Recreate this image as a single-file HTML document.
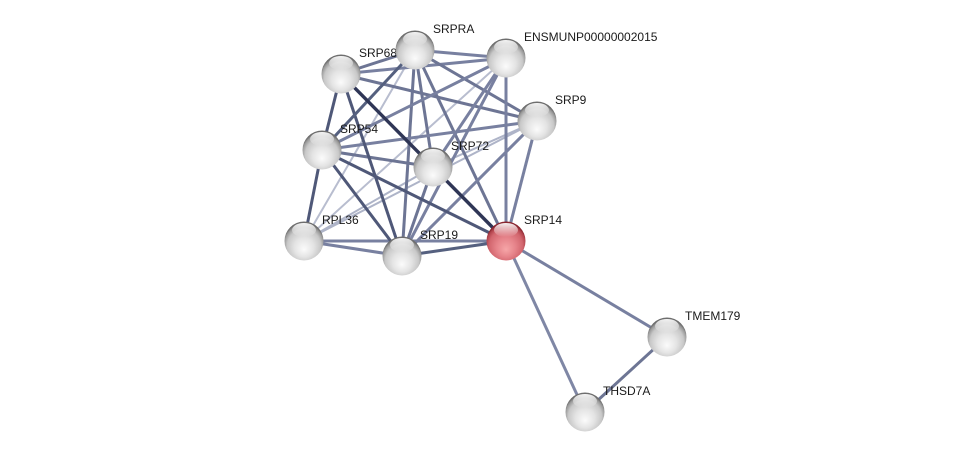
<!DOCTYPE html>
<html>
<head>
<meta charset="utf-8">
<style>
  html,body{margin:0;padding:0;background:#fff;}
  svg{display:block;}
  text{font-family:"Liberation Sans",Arial,sans-serif;font-size:12px;fill:#1a1a1a;}
</style>
</head>
<body>
<svg width="975" height="457" viewBox="0 0 975 457" xmlns="http://www.w3.org/2000/svg">
  <defs>
    <radialGradient id="gg" cx="50%" cy="60%" r="55%" fx="50%" fy="72%">
      <stop offset="0%" stop-color="#fbfbfb"/>
      <stop offset="45%" stop-color="#e4e4e4"/>
      <stop offset="78%" stop-color="#c8c8c8"/>
      <stop offset="93%" stop-color="#9a9a9a"/>
      <stop offset="100%" stop-color="#6e6e6e"/>
    </radialGradient>
    <radialGradient id="rg" cx="50%" cy="60%" r="55%" fx="50%" fy="72%">
      <stop offset="0%" stop-color="#f6a6a8"/>
      <stop offset="45%" stop-color="#e6838a"/>
      <stop offset="78%" stop-color="#d2666e"/>
      <stop offset="93%" stop-color="#b2444d"/>
      <stop offset="100%" stop-color="#8a2630"/>
    </radialGradient>
    <linearGradient id="hl" x1="0" y1="0" x2="0" y2="1">
      <stop offset="0%" stop-color="#ffffff" stop-opacity="0.95"/>
      <stop offset="100%" stop-color="#ffffff" stop-opacity="0"/>
    </linearGradient>
  </defs>

  <g stroke-linecap="butt" stroke-width="3" fill="none">
    <!-- light edges -->
    <g stroke-width="2">
      <line x1="415" y1="50" x2="304" y2="241" stroke="#b8bdcf"/>
      <line x1="506" y1="58" x2="304" y2="241" stroke="#b8bdcf"/>
      <line x1="537" y1="121" x2="433" y2="167" stroke="#aeb4c8"/>
      <line x1="537" y1="121" x2="304" y2="241" stroke="#aeb4c8"/>
      <line x1="433" y1="167" x2="304" y2="241" stroke="#aeb4c8"/>
    </g>

    <!-- normal edges -->
    <line x1="341" y1="74" x2="415" y2="50" stroke="#6d7594"/>
    <line x1="341" y1="74" x2="506" y2="58" stroke="#7880a0"/>
    <line x1="341" y1="74" x2="537" y2="121" stroke="#6d7594"/>
    <line x1="415" y1="50" x2="506" y2="58" stroke="#7880a0"/>
    <line x1="415" y1="50" x2="537" y2="121" stroke="#6d7594"/>
    <line x1="415" y1="50" x2="433" y2="167" stroke="#6d7594"/>
    <line x1="415" y1="50" x2="402" y2="256" stroke="#6d7594"/>
    <line x1="415" y1="50" x2="506" y2="241" stroke="#6d7594"/>
    <line x1="506" y1="58" x2="322" y2="150" stroke="#7880a0"/>
    <line x1="506" y1="58" x2="433" y2="167" stroke="#7880a0"/>
    <line x1="506" y1="58" x2="402" y2="256" stroke="#7880a0"/>
    <line x1="506" y1="58" x2="506" y2="241" stroke="#7880a0"/>
    <line x1="537" y1="121" x2="322" y2="150" stroke="#7880a0"/>
    <line x1="537" y1="121" x2="402" y2="256" stroke="#7880a0"/>
    <line x1="537" y1="121" x2="506" y2="241" stroke="#7880a0"/>
    <line x1="322" y1="150" x2="433" y2="167" stroke="#6d7594"/>
    <line x1="433" y1="167" x2="402" y2="256" stroke="#6d7594"/>
    <line x1="402" y1="256" x2="304" y2="241" stroke="#7880a0"/>
    <line x1="304" y1="241" x2="506" y2="241" stroke="#7880a0"/>
    <line x1="506" y1="241" x2="667" y2="337" stroke="#7880a0"/>
    <line x1="506" y1="241" x2="585" y2="412" stroke="#7f87a5"/>
    <line x1="667" y1="337" x2="585" y2="412" stroke="#6d7594"/>

    <!-- medium-dark edges -->
    <line x1="341" y1="74" x2="322" y2="150" stroke="#4f5878"/>
    <line x1="341" y1="74" x2="402" y2="256" stroke="#4f5878"/>
    <line x1="415" y1="50" x2="322" y2="150" stroke="#55607f"/>
    <line x1="322" y1="150" x2="506" y2="241" stroke="#4f5878"/>
    <line x1="322" y1="150" x2="402" y2="256" stroke="#4f5878"/>
    <line x1="322" y1="150" x2="304" y2="241" stroke="#4f5878"/>
    <line x1="402" y1="256" x2="506" y2="241" stroke="#55607f"/>

    <!-- dark edge -->
    <line x1="341" y1="74" x2="506" y2="241" stroke="#2f3656" stroke-width="3.4"/>
  </g>

  <!-- labels -->
  <text x="359" y="57">SRP68</text>
  <text x="433" y="33">SRPRA</text>
  <text x="524" y="41">ENSMUNP00000002015</text>
  <text x="555" y="104">SRP9</text>
  <text x="340" y="133">SRP54</text>
  <text x="451" y="150">SRP72</text>
  <text x="322" y="224">RPL36</text>
  <text x="420" y="239">SRP19</text>
  <text x="524" y="224">SRP14</text>
  <text x="685" y="320">TMEM179</text>
  <text x="603" y="395">THSD7A</text>

  <!-- nodes -->
  <g>
    <circle cx="341" cy="74" r="19.5" fill="url(#gg)"/>
    <ellipse cx="341" cy="63" rx="12" ry="7" fill="url(#hl)"/>
  </g>
  <g>
    <circle cx="415" cy="50" r="19.5" fill="url(#gg)"/>
    <ellipse cx="415" cy="39" rx="12" ry="7" fill="url(#hl)"/>
  </g>
  <g>
    <circle cx="506" cy="58" r="19.5" fill="url(#gg)"/>
    <ellipse cx="506" cy="47" rx="12" ry="7" fill="url(#hl)"/>
  </g>
  <g>
    <circle cx="537" cy="121" r="19.5" fill="url(#gg)"/>
    <ellipse cx="537" cy="110" rx="12" ry="7" fill="url(#hl)"/>
  </g>
  <g>
    <circle cx="322" cy="150" r="19.5" fill="url(#gg)"/>
    <ellipse cx="322" cy="139" rx="12" ry="7" fill="url(#hl)"/>
  </g>
  <g>
    <circle cx="433" cy="167" r="19.5" fill="url(#gg)"/>
    <ellipse cx="433" cy="156" rx="12" ry="7" fill="url(#hl)"/>
  </g>
  <g>
    <circle cx="304" cy="241" r="19.5" fill="url(#gg)"/>
    <ellipse cx="304" cy="230" rx="12" ry="7" fill="url(#hl)"/>
  </g>
  <g>
    <circle cx="402" cy="256" r="19.5" fill="url(#gg)"/>
    <ellipse cx="402" cy="245" rx="12" ry="7" fill="url(#hl)"/>
  </g>
  <g>
    <circle cx="506" cy="241" r="19.5" fill="url(#rg)"/>
    <ellipse cx="506" cy="230" rx="12" ry="7" fill="url(#hl)"/>
  </g>
  <g>
    <circle cx="667" cy="337" r="19.5" fill="url(#gg)"/>
    <ellipse cx="667" cy="326" rx="12" ry="7" fill="url(#hl)"/>
  </g>
  <g>
    <circle cx="585" cy="412" r="19.5" fill="url(#gg)"/>
    <ellipse cx="585" cy="401" rx="12" ry="7" fill="url(#hl)"/>
  </g>
</svg>
</body>
</html>
